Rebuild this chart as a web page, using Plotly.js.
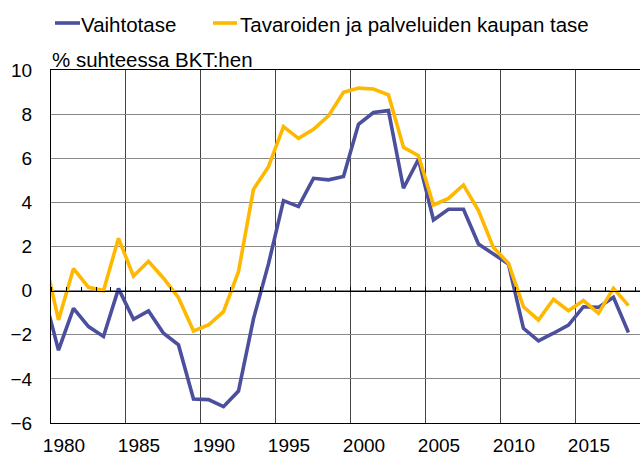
<!DOCTYPE html>
<html>
<head>
<meta charset="utf-8">
<script src="https://cdn.plot.ly/plotly-3.0.1.min.js"></script>
<style>
html,body{margin:0;padding:0;background:#fff;overflow:hidden;}
#chart{width:640px;height:457px;}
</style>
</head>
<body>
<div id="chart"></div>
<script>
var years = [1979,1980,1981,1982,1983,1984,1985,1986,1987,1988,1989,1990,1991,1992,1993,1994,1995,1996,1997,1998,1999,2000,2001,2002,2003,2004,2005,2006,2007,2008,2009,2010,2011,2012,2013,2014,2015,2016,2017,2018];
var vaihtotase = [-0.1,-2.7,-0.8,-1.63,-2.08,0.09,-1.3,-0.92,-1.93,-2.46,-4.91,-4.94,-5.26,-4.55,-1.28,1.21,4.08,3.81,5.09,5.02,5.17,7.54,8.07,8.16,4.64,5.95,3.2,3.69,3.69,2.11,1.66,1.21,-1.71,-2.28,-1.93,-1.56,-0.73,-0.76,-0.3,-1.9];
var kauppatase = [1.69,-1.33,1.0,0.15,0.0,2.37,0.66,1.33,0.56,-0.32,-1.83,-1.56,-0.95,0.86,4.59,5.62,7.43,6.9,7.31,7.92,8.99,9.18,9.14,8.87,6.5,6.12,3.88,4.18,4.79,3.63,1.95,1.24,-0.73,-1.33,-0.39,-0.91,-0.45,-1.03,0.11,-0.68];
var seriesNames = ['Vaihtotase','Tavaroiden ja palveluiden kaupan tase'];
var seriesColors = ['#4b4f9e','#ffb800'];
var gridVals = [1979.5,1984.5,1989.5,1994.5,1999.5,2004.5,2009.5,2014.5];
var tickLabels = ['1980','1985','1990','1995','2000','2005','2010','2015'];
var yTicks = [-6,-4,-2,0,2,4,6,8,10];
var subtitle = '% suhteessa BKT:hen';

var FONT = 'Liberation Sans, Arial, sans-serif';
var xRange = [1979.5, 2018.77];

var traces = [
  {x: years, y: vaihtotase, type:'scatter', mode:'lines', name: seriesNames[0],
   line:{color: seriesColors[0], width:3.6}, xaxis:'x', yaxis:'y', hoverinfo:'skip'},
  {x: years, y: kauppatase, type:'scatter', mode:'lines', name: seriesNames[1],
   line:{color: seriesColors[1], width:3.6}, xaxis:'x2', yaxis:'y', hoverinfo:'skip'}
];

var legendLine = [[4,29],[162,186]];
var legendText = [28, 187];
var shapes = [], annotations = [];
for (var i=0;i<2;i++){
  shapes.push({type:'line', xref:'paper', yref:'paper', xsizemode:'pixel', ysizemode:'pixel',
    xanchor:0, yanchor:1, x0:legendLine[i][0], x1:legendLine[i][1], y0:47, y1:47,
    line:{color:seriesColors[i], width:3.6}});
  annotations.push({text: seriesNames[i], xref:'paper', yref:'paper', x:0, y:1,
    xanchor:'left', yanchor:'middle', xshift:legendText[i], yshift:46, showarrow:false,
    font:{family:FONT, size:20.5, color:'#000'}});
}
annotations.push({text: subtitle, xref:'paper', yref:'paper', x:0, y:1, xanchor:'left',
  yanchor:'middle', xshift:-1, yshift:11, showarrow:false, font:{family:FONT, size:20.5, color:'#000'}});

var layout = {
  width:640, height:457,
  margin:{l:51, r:0, t:70, b:34},
  paper_bgcolor:'#fff', plot_bgcolor:'#fff',
  showlegend:false,
  font:{family:FONT, size:19, color:'#000'},
  xaxis:{range:xRange, tickmode:'array', tickvals:gridVals, ticktext:tickLabels,
    showgrid:true, gridcolor:'#444', gridwidth:1, ticks:'', ticklabelshift:13,
    ticklabelstandoff:5, showline:true, linecolor:'#000', linewidth:1, mirror:true,
    zeroline:false, tickfont:{family:FONT, size:19, color:'#000'}, fixedrange:true},
  xaxis2:{range:xRange, overlaying:'x', anchor:'free', position:0.375, side:'top',
    tickmode:'linear', tick0:1979.5, dtick:1, ticks:'outside', ticklen:4, tickcolor:'#000',
    tickwidth:1, showticklabels:false, showline:true, linecolor:'#000', linewidth:1,
    showgrid:false, zeroline:false, fixedrange:true},
  yaxis:{range:[-6,10], tickmode:'array', tickvals:yTicks, showgrid:true, gridcolor:'#888',
    gridwidth:1, ticks:'', ticklabelstandoff:14, showline:true, linecolor:'#000', linewidth:1,
    zeroline:false, tickfont:{family:FONT, size:19, color:'#000'}, fixedrange:true},
  shapes: shapes,
  annotations: annotations
};

Plotly.newPlot('chart', traces, layout, {displayModeBar:false, staticPlot:true});
</script>
</body>
</html>
